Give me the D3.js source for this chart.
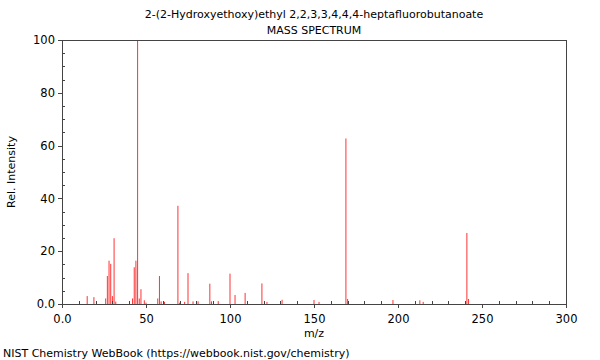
<!DOCTYPE html>
<html>
<head>
<meta charset="utf-8">
<script src="https://cdn.jsdelivr.net/npm/d3@7"></script>
<style>
  body { margin: 0; background: #fff; }
  svg text { font-family: "DejaVu Sans", sans-serif; fill: #000; }
</style>
</head>
<body>
<div id="chart"></div>
<script>
// peaks: m/z and relative intensity
var mzValues = [15, 19, 26, 27, 28, 29, 30, 31, 32, 42, 43, 44, 45, 46, 47, 49, 50, 57, 58, 59, 61,
                69, 70, 73, 75, 78, 81, 88, 89, 93, 100, 103, 109, 119, 122, 131, 150, 153,
                169, 170, 197, 213, 215, 241, 242];
var intensities = [3.0, 2.6, 2.1, 10.6, 16.4, 15.2, 3.0, 24.9, 0.9, 2.1, 13.9, 16.4, 100, 2.1, 5.6, 1.4, 0.5, 2.1, 10.6, 1.0, 0.8,
                   37.2, 0.5, 0.8, 11.7, 1.0, 1.0, 7.7, 1.0, 1.1, 11.5, 3.4, 4.2, 7.8, 0.8, 1.6, 1.5, 0.8,
                   62.7, 1.9, 1.5, 1.4, 0.8, 26.9, 1.9];
var xMajorTicks = [0, 50, 100, 150, 200, 250, 300];
var yMajorTicks = [0, 20, 40, 60, 80, 100];

var titleLines = ["2-(2-Hydroxyethoxy)ethyl 2,2,3,3,4,4,4-heptafluorobutanoate", "MASS SPECTRUM"];

var W = 600, H = 360,
    margin = {top: 40, right: 34, bottom: 56, left: 62},
    width = W - margin.left - margin.right,
    height = H - margin.top - margin.bottom,
    axisColor = "#444";

var svg = d3.select("#chart").append("svg")
    .attr("width", W)
    .attr("height", H);

var g = svg.append("g")
    .attr("transform", "translate(" + margin.left + "," + margin.top + ")");

var x = d3.scaleLinear().domain([0, 300]).range([0, width]);
var y = d3.scaleLinear().domain([0, 100]).range([height, 0]);

// peaks
g.selectAll(".peak")
    .data(mzValues)
    .enter().append("line")
    .attr("class", "peak")
    .attr("x1", function (d) { return x(d); })
    .attr("x2", function (d) { return x(d); })
    .attr("y1", y(0))
    .attr("y2", function (d, i) { return y(intensities[i]); })
    .attr("stroke", "#f33")
    .attr("stroke-width", 1);

// frame
g.append("rect")
    .attr("x", 0).attr("y", 0)
    .attr("width", width).attr("height", height)
    .attr("fill", "none")
    .attr("stroke", axisColor)
    .attr("stroke-width", 1)
    .attr("shape-rendering", "crispEdges");

// x axis: major ticks outward, minor ticks inward
var xAxis = g.append("g").attr("transform", "translate(0," + height + ")");
xAxis.call(d3.axisBottom(x).tickValues(xMajorTicks).tickSize(4)
    .tickFormat(function (d) { return d === 0 ? "0.0" : d; }));
xAxis.append("g").call(d3.axisTop(x).tickValues(d3.range(0, 301, 10).filter(function (d) { return d % 50; }))
    .tickSize(3).tickFormat(""));

// y axis
var yAxis = g.append("g");
yAxis.call(d3.axisLeft(y).tickValues(yMajorTicks).tickSize(4)
    .tickFormat(function (d) { return d === 0 ? "0.0" : d; }));
yAxis.append("g").call(d3.axisRight(y).tickValues(d3.range(0, 101, 5).filter(function (d) { return d % 20; }))
    .tickSize(3).tickFormat(""));

g.selectAll(".domain").remove();
g.selectAll(".tick line").attr("stroke", axisColor).attr("shape-rendering", "crispEdges");
g.selectAll(".tick text").style("font-size", "11.5px").style("font-family", "DejaVu Sans");
xAxis.selectAll(".tick text").attr("dy", "1.05em");

// titles
svg.selectAll(".title")
    .data(titleLines)
    .enter().append("text")
    .attr("class", "title")
    .attr("x", margin.left + width / 2)
    .attr("y", function (d, i) { return 18 + i * 16; })
    .attr("text-anchor", "middle")
    .style("font-size", "11px")
    .text(function (d) { return d; });

svg.append("text")
    .attr("x", margin.left + width / 2)
    .attr("y", 337)
    .attr("text-anchor", "middle")
    .style("font-size", "11px")
    .text("m/z");

svg.append("text")
    .attr("transform", "translate(15," + (margin.top + height / 2) + ") rotate(-90)")
    .attr("text-anchor", "middle")
    .style("font-size", "11px")
    .text("Rel. Intensity");

svg.append("text")
    .attr("x", 3)
    .attr("y", 357)
    .style("font-size", "11px")
    .text("NIST Chemistry WebBook (https://webbook.nist.gov/chemistry)");
</script>
</body>
</html>
